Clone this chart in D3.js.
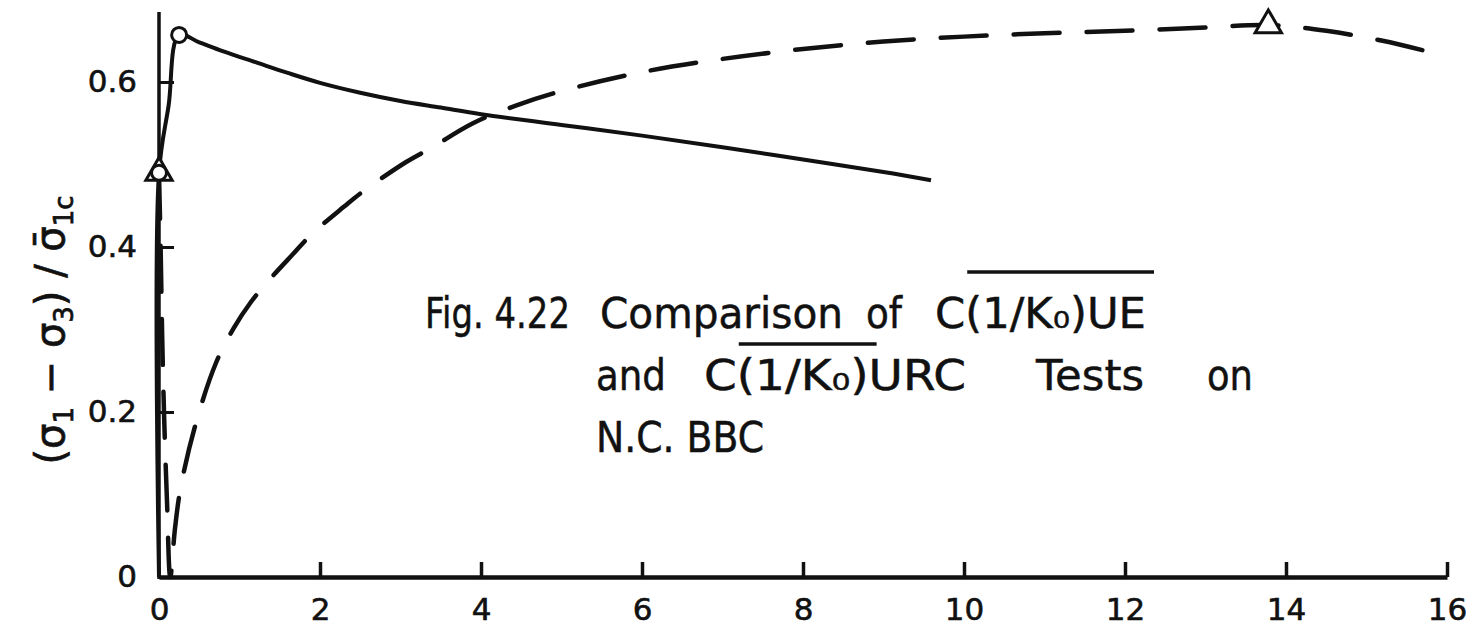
<!DOCTYPE html>
<html>
<head>
<meta charset="utf-8">
<script src="https://cdn.jsdelivr.net/npm/d3@7"></script>
<style>
  html, body { margin: 0; padding: 0; background: #fff; }
  svg { display: block; }
  text { font-family: "DejaVu Sans", sans-serif; fill: #111; }
</style>
</head>
<body>
<svg id="chart" width="1483" height="627"></svg>
<script>
// Axis ticks
const xTicks = [0, 2, 4, 6, 8, 10, 12, 14, 16];
const yTicks = [0, 0.2, 0.4, 0.6];

// C(1/K0)URC test (solid): strain (%) vs normalised deviator stress
const solidX = [0, 0, 0.12, 0.25, 0.5, 0.8, 1.2, 1.6, 2.0, 2.5, 3.0, 3.5, 4.0, 5.0, 6.0, 7.0, 8.0, 9.0, 9.59];
const solidY = [0, 0.49, 0.572, 0.657, 0.648, 0.637, 0.624, 0.611, 0.599, 0.587, 0.577, 0.569, 0.561, 0.548, 0.535, 0.521, 0.506, 0.491, 0.481];

// C(1/K0)UE test (dashed)
const dashX = [0, 0.02, 0.04, 0.065, 0.1, 0.14, 0.2, 0.27, 0.46, 0.71, 0.93, 1.14, 1.35, 1.68, 1.89, 2.3, 2.53, 3.07, 3.38, 3.9, 4.45, 5.0, 6.0, 7.0, 8.0, 9.0, 10.0, 11.0, 12.0, 13.0, 13.78, 14.5, 15.2, 15.8];
const dashY = [0.49, 0.40, 0.29, 0.19, 0.09, 0.0, 0.06, 0.109, 0.187, 0.26, 0.302, 0.333, 0.358, 0.393, 0.415, 0.449, 0.467, 0.503, 0.52, 0.55, 0.572, 0.589, 0.612, 0.628, 0.640, 0.649, 0.655, 0.659, 0.662, 0.666, 0.669, 0.662, 0.650, 0.636];

// Marked points
const circleX = [0, 0.25];
const circleY = [0.49, 0.657];
const triangleX = [0, 13.78];
const triangleY = [0.49, 0.669];

const svg = d3.select("#chart");
const x = d3.scaleLinear().domain([0, 16]).range([159, 1447]);
const y = d3.scaleLinear().domain([0, 0.6]).range([577, 82]);
const ink = "#111";

// x axis: ticks point up into the plot
const xAxis = svg.append("g")
  .attr("transform", `translate(0,${y(0)})`)
  .call(d3.axisBottom(x).tickValues(xTicks).tickSizeInner(-15).tickSizeOuter(0)
    .tickPadding(20).tickFormat(d3.format("d")));
xAxis.select(".domain").attr("stroke", ink).attr("stroke-width", 4.5);
xAxis.selectAll(".tick line").attr("stroke", ink).attr("stroke-width", 3.5)
  .filter(d => d === 0).remove();
xAxis.selectAll(".tick text").attr("font-size", 31).attr("font-family", "DejaVu Sans")
  .attr("fill", ink).attr("stroke", ink).attr("stroke-width", 0.6).attr("dy", "0.75em");

// y axis: ticks point right into the plot
const yAxis = svg.append("g")
  .attr("transform", `translate(${x(0)},0)`)
  .call(d3.axisLeft(y).tickValues(yTicks).tickSizeInner(-15).tickSizeOuter(0)
    .tickPadding(22).tickFormat(d => d === 0 ? "0" : d3.format(".1f")(d)));
yAxis.select(".domain").remove();
yAxis.selectAll(".tick line").attr("stroke", ink).attr("stroke-width", 3)
  .filter(d => d === 0).remove();
yAxis.selectAll(".tick text").attr("font-size", 31).attr("font-family", "DejaVu Sans")
  .attr("fill", ink).attr("stroke", ink).attr("stroke-width", 0.6);
svg.append("line")
  .attr("x1", x(0)).attr("x2", x(0))
  .attr("y1", y(0) + 2).attr("y2", y(0.685))
  .attr("stroke", ink).attr("stroke-width", 3.5);

// curves
const line = d3.line().x(d => x(d[0])).y(d => y(d[1])).curve(d3.curveCatmullRom.alpha(0.5));
const solid = solidX.map((v, i) => [v, solidY[i]]);
const dashed = dashX.map((v, i) => [v, dashY[i]]);

svg.append("path").datum(dashed)
  .attr("d", line).attr("fill", "none").attr("stroke", ink)
  .attr("stroke-width", 4.5).attr("stroke-dasharray", "46 27")
  .attr("stroke-linecap", "round");
svg.append("path").datum(solid)
  .attr("d", line).attr("fill", "none").attr("stroke", ink)
  .attr("stroke-width", 4).attr("stroke-linejoin", "round");

// markers
const tri = d3.symbol().type(d3.symbolTriangle).size(300);
svg.selectAll("path.tri").data(triangleX.map((v, i) => [v, triangleY[i]])).join("path")
  .attr("class", "tri")
  .attr("d", tri)
  .attr("transform", d => `translate(${x(d[0])},${y(d[1])})`)
  .attr("fill", "#fff").attr("stroke", ink).attr("stroke-width", 3);
svg.selectAll("circle.pt").data(circleX.map((v, i) => [v, circleY[i]])).join("circle")
  .attr("class", "pt")
  .attr("cx", d => x(d[0])).attr("cy", d => y(d[1])).attr("r", 7.5)
  .attr("fill", "#fff").attr("stroke", ink).attr("stroke-width", 3);

// y axis title
const yt = svg.append("text")
  .attr("transform", "translate(64,330) rotate(-90)")
  .attr("text-anchor", "middle").attr("font-size", 40)
  .attr("stroke", ink).attr("stroke-width", 0.7);
yt.append("tspan").text("(σ");
yt.append("tspan").attr("dy", 9).attr("font-size", 26).text("1");
yt.append("tspan").attr("dy", -9).text(" − σ");
yt.append("tspan").attr("dy", 9).attr("font-size", 26).text("3");
yt.append("tspan").attr("dy", -9).text(") / σ̄");
yt.append("tspan").attr("dy", 9).attr("font-size", 26).text("1c");

// figure caption, placed word by word in a condensed lettering
const caption = [
  { t: "Fig. 4.22", x: 425, w: 145, y: 328 },
  { t: "Comparison", x: 600, w: 243, y: 328 },
  { t: "of", x: 866, w: 36, y: 328 },
  { t: "C(1/K₀)UE", x: 935, w: 211, y: 328, bar: [1, 9], barY: 272 },
  { t: "and", x: 596, w: 70, y: 390 },
  { t: "C(1/K₀)URC", x: 704, w: 262, y: 390, bar: [1, 7], barY: 344 },
  { t: "Tests", x: 1036, w: 108, y: 390 },
  { t: "on", x: 1207, w: 46, y: 390 },
  { t: "N.C. BBC", x: 596, w: 168, y: 452 }
];
caption.forEach(c => {
  const el = svg.append("text")
    .attr("x", c.x).attr("y", c.y)
    .attr("font-size", 42)
    .attr("textLength", c.w).attr("lengthAdjust", "spacingAndGlyphs")
    .attr("stroke", ink).attr("stroke-width", 0.5)
    .text(c.t);
  if (c.bar) {
    const n = el.node();
    const x0 = n.getStartPositionOfChar(c.bar[0]).x;
    const x1 = n.getEndPositionOfChar(c.bar[1] - 1).x;
    svg.append("line")
      .attr("x1", x0 + 2).attr("x2", x1 + 8)
      .attr("y1", c.barY).attr("y2", c.barY)
      .attr("stroke", ink).attr("stroke-width", 3.5);
  }
});
</script>
</body>
</html>
